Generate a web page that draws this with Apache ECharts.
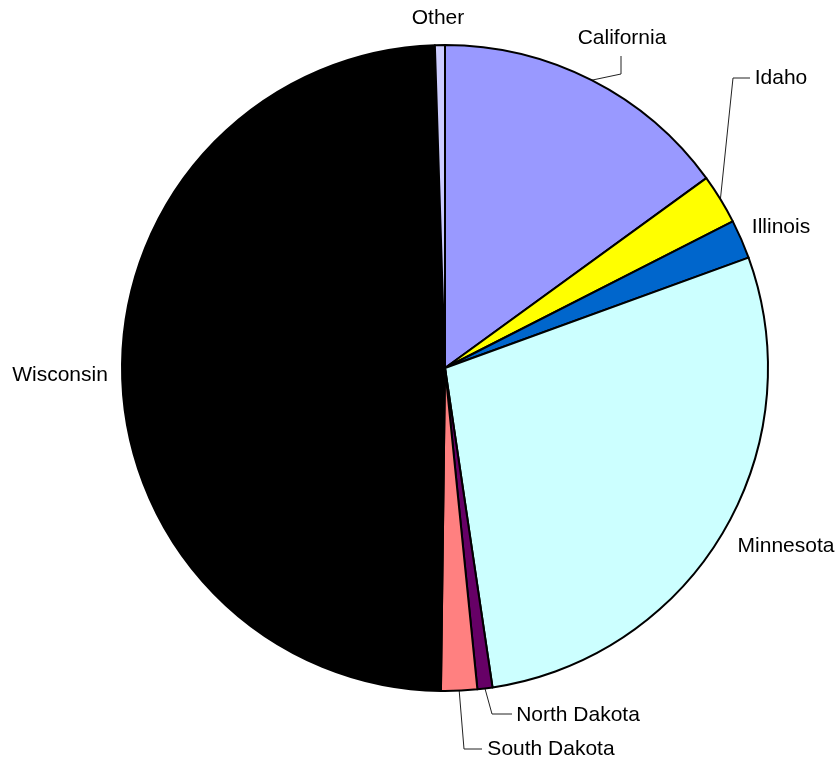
<!DOCTYPE html>
<html>
<head>
<meta charset="utf-8">
<style>
  html, body { margin: 0; padding: 0; background: #fff; }
  #chart { width: 837px; height: 761px; }
</style>
<script src="https://cdn.jsdelivr.net/npm/echarts@6/dist/echarts.min.js"></script>
</head>
<body>
<div id="chart"></div>
<script>
// Share of production by state (percent)
const states = ['California', 'Idaho', 'Illinois', 'Minnesota', 'North Dakota', 'South Dakota', 'Wisconsin', 'Other'];
const shares = [15.0, 2.5, 1.95, 28.2, 0.75, 1.8, 49.3, 0.5];
const sliceColors = ['#9999FF', '#FFFF00', '#0066CC', '#CCFFFF', '#660066', '#FF8080', '#000000', '#CCCCFF'];

// Where each label sits, and whether it has a leader line (elbow style)
const labelSpots = {
  'California':   { x: 622, y: 38,  line: true, elbow: [621, 74], end: [621, 56] },
  'Idaho':        { x: 781, y: 78,  line: true, elbow: [733, 78], end: [750, 78] },
  'Illinois':     { x: 781, y: 227 },
  'Minnesota':    { x: 786, y: 546 },
  'North Dakota': { x: 578, y: 715, line: true, elbow: [492, 714], end: [512, 714] },
  'South Dakota': { x: 551, y: 749, line: true, elbow: [464, 749], end: [482, 749] },
  'Wisconsin':    { x: 60,  y: 375 },
  'Other':        { x: 438, y: 18 }
};

const chart = echarts.init(document.getElementById('chart'), null, { renderer: 'canvas' });

const data = states.map((name, i) => ({
  name,
  value: shares[i],
  itemStyle: { color: sliceColors[i] },
  labelLine: { show: !!labelSpots[name].line }
}));

chart.setOption({
  animation: false,
  backgroundColor: '#ffffff',
  series: [{
    type: 'pie',
    center: [445, 368],
    radius: 323,
    startAngle: 90,
    clockwise: true,
    avoidLabelOverlap: false,
    data,
    itemStyle: { borderColor: '#000000', borderWidth: 2 },
    label: {
      show: true,
      position: 'outside',
      formatter: '{b}',
      color: '#000000',
      fontFamily: 'Liberation Sans, Arial, sans-serif',
      fontSize: 21
    },
    labelLine: {
      show: true,
      length: 5,
      length2: 5,
      smooth: false,
      lineStyle: { color: '#222222', width: 1 }
    },
    emphasis: { disabled: true },
    labelLayout: function (params) {
      const spot = labelSpots[states[params.dataIndex]];
      const out = { x: spot.x, y: spot.y, align: 'center', verticalAlign: 'middle' };
      if (spot.line && params.labelLinePoints) {
        const a = params.labelLinePoints[0];
        out.labelLinePoints = [[a[0], a[1]], spot.elbow, spot.end];
      }
      return out;
    }
  }]
});
</script>
</body>
</html>
